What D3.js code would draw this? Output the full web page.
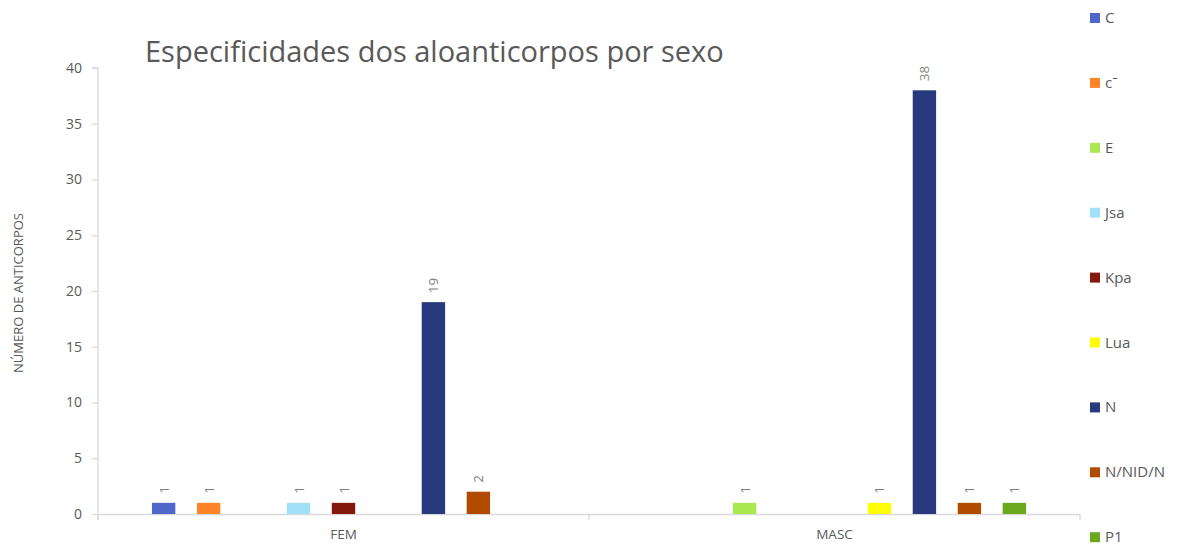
<!DOCTYPE html>
<html>
<head>
<meta charset="utf-8">
<script src="https://cdn.jsdelivr.net/npm/d3@7"></script>
<style>
  body { margin: 0; background: #fff; }
  svg text { font-family: "Open Sans", "Noto Sans", sans-serif; }
</style>
</head>
<body>
<div id="chart"></div>
<script>
// categories + series
const groups = ["FEM", "MASC"];
const series = ["C", "c\u02C9", "E", "Jsa", "Kpa", "Lua", "N", "N/NID/N", "P1"];
const colors = ["#4F67C9", "#FF8428", "#A9E84F", "#A2E0F8", "#84180C", "#FFFF00", "#283A7D", "#B04B00", "#6AA81E"];
// values per series, null = no bar
const femValues  = [1, 1, null, 1, 1, null, 19, 2, null];
const mascValues = [null, null, 1, null, null, 1, 38, 1, 1];
const yTicks = [0, 5, 10, 15, 20, 25, 30, 35, 40];

const W = 1179, H = 547;
const margin = {top: 68, right: 99, bottom: 33, left: 98};
const width = W - margin.left - margin.right;
const height = H - margin.top - margin.bottom;

const svg = d3.select("#chart").append("svg")
    .attr("width", W)
    .attr("height", H);

const g = svg.append("g")
    .attr("transform", `translate(${margin.left},${margin.top})`);

// scales
const x0 = d3.scaleBand().domain(groups).range([0, width]);
const x1 = d3.scaleBand().domain(series).range([0, x0.bandwidth()])
    .paddingInner(0.48).paddingOuter(1.2);
const y = d3.scaleLinear().domain([0, 40]).range([height, 0]);
const color = d3.scaleOrdinal(series, colors);

const grey = "#595959";
const axisGrey = "#d9d9d9";

// y axis
const yAxis = g.append("g")
    .call(d3.axisLeft(y).tickValues(yTicks).tickSize(6).tickPadding(10));
yAxis.select(".domain").attr("stroke", axisGrey).attr("stroke-width", 1.3)
    .attr("d", `M0,${height + 6}V0H-6`);
yAxis.selectAll(".tick line").attr("stroke", axisGrey).attr("stroke-width", 1.3);
yAxis.selectAll(".tick text").attr("fill", grey).attr("font-size", 14)
    .style("font-family", "Open Sans, sans-serif");

// x axis
const xAxis = g.append("g")
    .attr("transform", `translate(0,${height})`)
    .call(d3.axisBottom(x0).tickSize(0).tickPadding(15));
xAxis.select(".domain").attr("stroke", axisGrey).attr("stroke-width", 1.3);
xAxis.selectAll(".tick text").attr("fill", grey).attr("font-size", 13.5)
    .style("font-family", "Open Sans, sans-serif");

// group boundary ticks
const bounds = [0, x0.bandwidth(), width];
g.append("g").selectAll("line")
    .data(bounds)
    .enter().append("line")
    .attr("x1", d => d).attr("x2", d => d)
    .attr("y1", height).attr("y2", height + 6)
    .attr("stroke", axisGrey).attr("stroke-width", 1.3);

// bars
const rows = groups.map((grp, gi) => {
    const vals = gi === 0 ? femValues : mascValues;
    return {group: grp, items: series.map((s, i) => ({key: s, value: vals[i]})).filter(d => d.value != null)};
});

const grp = g.selectAll("g.grp")
    .data(rows)
    .enter().append("g")
    .attr("class", "grp")
    .attr("transform", d => `translate(${x0(d.group)},0)`);

grp.selectAll("rect")
    .data(d => d.items)
    .enter().append("rect")
    .attr("x", d => x1(d.key))
    .attr("y", d => y(d.value))
    .attr("width", x1.bandwidth())
    .attr("height", d => height - y(d.value))
    .attr("fill", d => color(d.key));

// value labels (rotated)
grp.selectAll("text.val")
    .data(d => d.items)
    .enter().append("text")
    .attr("class", "val")
    .attr("transform", d => `translate(${x1(d.key) + x1.bandwidth() / 2 + 5},${y(d.value) - 9}) rotate(-90)`)
    .attr("text-anchor", "start")
    .attr("fill", "#7f7f7f")
    .attr("font-size", 13.5)
    .text(d => d.value);

// title
svg.append("text")
    .attr("x", 145)
    .attr("y", 62)
    .attr("fill", grey)
    .attr("font-size", 29)
    .text("Especificidades dos aloanticorpos por sexo");

// y axis title
svg.append("text")
    .attr("transform", `translate(23,293) rotate(-90)`)
    .attr("text-anchor", "middle")
    .attr("fill", grey)
    .attr("font-size", 13)
    .style("font-family", "Open Sans, sans-serif")
    .text("NÚMERO DE ANTICORPOS");

// legend
const legend = svg.append("g").selectAll("g")
    .data(series)
    .enter().append("g")
    .attr("transform", (d, i) => `translate(1090,${18 + i * 64.9})`);

legend.append("rect")
    .attr("x", 0).attr("y", -5)
    .attr("width", 10).attr("height", 10)
    .attr("fill", d => color(d));

legend.append("text")
    .attr("x", 15).attr("y", 5)
    .attr("fill", grey)
    .attr("font-size", 15)
    .text(d => d);
</script>
</body>
</html>
